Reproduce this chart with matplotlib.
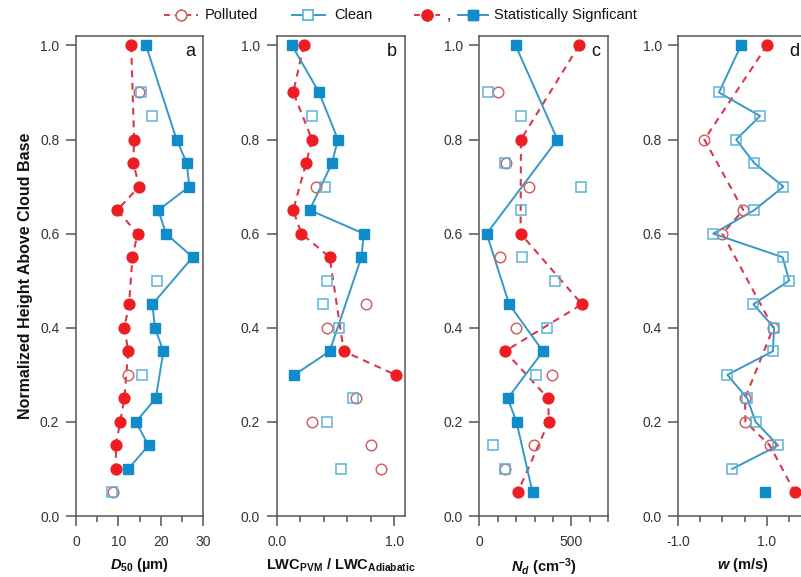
import numpy as np
import matplotlib
matplotlib.use("Agg")
import matplotlib.pyplot as plt
from matplotlib.lines import Line2D
from matplotlib.ticker import MultipleLocator, FixedLocator

plt.rcParams['font.family'] = ['Liberation Sans', 'DejaVu Sans']
plt.rcParams['mathtext.fontset'] = 'custom'
plt.rcParams['mathtext.it'] = 'Liberation Sans:italic:bold'
plt.rcParams['mathtext.rm'] = 'Liberation Sans:bold'
plt.rcParams['mathtext.bf'] = 'Liberation Sans:bold'

N = np.nan
# normalized height levels (top to bottom)
heights = [1.0, 0.9, 0.85, 0.8, 0.75, 0.7, 0.65, 0.6, 0.55, 0.5,
           0.45, 0.4, 0.35, 0.3, 0.25, 0.2, 0.15, 0.1, 0.05]

# a: D50 (um)
a_pol = [13.0, 14.9, N, 13.7, 13.5, 14.9, 9.7, 14.5, 13.3, N, 12.5, 11.4, 12.3, 12.2, 11.4, 10.4, 9.4, 9.4, 8.8]
a_pol_sig = [1, 0, 0, 1, 1, 1, 1, 1, 1, 0, 1, 1, 1, 0, 1, 1, 1, 1, 0]
a_cln = [16.5, 15.3, 17.8, 23.7, 26.1, 26.7, 19.4, 21.2, 27.5, 19.0, 18.0, 18.6, 20.6, 15.5, 18.8, 14.1, 17.1, 12.3, 8.4]
a_cln_sig = [1, 0, 0, 1, 1, 1, 1, 1, 1, 0, 1, 1, 1, 0, 1, 1, 1, 1, 0]

# b: LWC_PVM / LWC_adiabatic
b_pol = [0.23, 0.14, N, 0.30, 0.25, 0.33, 0.14, 0.21, 0.45, N, 0.76, 0.43, 0.57, 1.01, 0.67, 0.30, 0.80, 0.89, N]
b_pol_sig = [1, 1, 0, 1, 1, 0, 1, 1, 1, 0, 0, 0, 1, 1, 0, 0, 0, 0, 0]
b_cln = [0.13, 0.36, 0.30, 0.52, 0.47, 0.41, 0.28, 0.74, 0.72, 0.43, 0.39, 0.53, 0.45, 0.15, 0.65, 0.43, N, 0.55, N]
b_cln_sig = [1, 1, 0, 1, 1, 0, 1, 1, 1, 0, 0, 0, 1, 1, 0, 0, 0, 0, 0]

# c: Nd (cm-3)
c_pol = [541, 103, N, 226, 144, 271, N, 224, 112, N, 557, 199, 139, 392, 374, 377, 298, 139, 208]
c_pol_sig = [1, 0, 0, 1, 0, 0, 0, 1, 0, 0, 1, 0, 1, 0, 1, 1, 0, 0, 1]
c_cln = [197, 45, 226, 424, 139, 550, 226, 40, 229, 410, 162, 370, 346, 307, 154, 202, 72, 139, 289]
c_cln_sig = [1, 0, 0, 1, 0, 0, 0, 1, 0, 0, 1, 0, 1, 0, 1, 1, 0, 0, 1]

# d: w (m/s)
d_pol = [1.01, N, N, -0.41, N, N, 0.47, 0.0, N, N, N, 1.15, N, N, 0.51, 0.52, 1.07, N, 1.64]
d_pol_sig = [1, 0, 0, 0, 0, 0, 0, 0, 0, 0, 0, 0, 0, 0, 0, 0, 0, 0, 1]
d_cln = [0.42, -0.08, 0.85, 0.31, 0.72, 1.38, 0.72, -0.21, 1.36, 1.51, 0.70, 1.17, 1.14, 0.11, 0.56, 0.75, 1.26, 0.22, 0.96]
d_cln_sig = [1, 0, 0, 0, 0, 0, 0, 0, 0, 0, 0, 0, 0, 0, 0, 0, 0, 0, 1]
# which points the lines run through in panel d
d_pol_join = [1] * 19
d_cln_join = [1] * 18 + [0]

red_fill = '#ee1d23'
red_line = '#d8384a'
red_open = '#cf6464'
blue_fill = '#108ccb'
blue_line = '#3798c6'
blue_open = '#5cb0da'
axc = '#555555'

W, H = 801, 577
fig = plt.figure(figsize=(W / 100, H / 100), dpi=100)


def px(x, y):
    return x / W, 1 - y / H


def series(ax, vals, sig, join, pol):
    h = np.array(heights)
    v = np.array(vals, dtype=float)
    s = np.array(sig, dtype=bool)
    j = np.array(join, dtype=bool) & ~np.isnan(v)
    m = ~s & ~np.isnan(v)
    if pol:
        ax.plot(v[j], h[j], ls=(0, (3.3, 2.7)), lw=1.5, color=red_line, zorder=2)
        ax.plot(v[m], h[m], 'o', ms=7.6, mfc='none', mec=red_open, mew=1.1, ls='none', zorder=3)
        ax.plot(v[s], h[s], 'o', ms=7.8, color=red_fill, ls='none', zorder=4)
    else:
        ax.plot(v[j], h[j], '-', lw=1.4, color=blue_line, zorder=2)
        ax.plot(v[m], h[m], 's', ms=7.4, mfc='none', mec=blue_open, mew=1.1, ls='none', zorder=3)
        ax.plot(v[s], h[s], 's', ms=7.2, color=blue_fill, ls='none', zorder=4)


panels = [
    ('a', 76, 127.3, (0, 30), [0, 10, 20, 30], ['0', '10', '20', '30'], 5,
     '$D_{50}$ (µm)', a_pol, a_pol_sig, a_pol_sig, a_cln, a_cln_sig, a_cln_sig),
    ('b', 276.7, 128.3, (0, 1.09), [0, 1.0], ['0.0', '1.0'], 0.2,
     'LWC$_{\\mathrm{PVM}}$ / LWC$_{\\mathrm{Adiabatic}}$', b_pol, b_pol_sig, b_pol_sig, b_cln, b_cln_sig, b_cln_sig),
    ('c', 479.3, 129, (0, 700), [0, 500], ['0', '500'], 100,
     '$N_d$ (cm$^{\\mathrm{-3}}$)', c_pol, c_pol_sig, c_pol_sig, c_cln, c_cln_sig, c_cln_sig),
    ('d', 678.3, 129, (-1, 1.92), [-1.0, 1.0], ['-1.0', '1.0'], 0.5,
     '$w$ (m/s)', d_pol, d_pol_sig, d_pol_join, d_cln, d_cln_sig, d_cln_join),
]

top, bot = 36, 516
for (letter, x0, w, xlim, majors, mlabels, minor, xlabel,
     pv, ps, pj, cv, cs, cj) in panels:
    ax = fig.add_axes([x0 / W, 1 - bot / H, w / W, (bot - top) / H])
    series(ax, pv, ps, pj, True)
    series(ax, cv, cs, cj, False)
    ax.set_xlim(*xlim)
    ax.set_ylim(0, 1.02)
    ax.xaxis.set_major_locator(FixedLocator(majors))
    ax.set_xticklabels(mlabels)
    ax.xaxis.set_minor_locator(MultipleLocator(minor))
    ax.yaxis.set_major_locator(FixedLocator([0, 0.2, 0.4, 0.6, 0.8, 1.0]))
    ax.set_yticklabels(['0.0', '0.2', '0.4', '0.6', '0.8', '1.0'])
    for sp in ax.spines.values():
        sp.set_color(axc)
        sp.set_linewidth(1.1)
    ax.tick_params(which='major', direction='out', length=7, width=1.1, color=axc,
                   labelsize=10, labelcolor='#333333')
    ax.tick_params(axis='x', which='major', pad=7)
    ax.tick_params(axis='y', which='major', pad=5)
    ax.tick_params(which='minor', direction='out', length=4, width=1.1, color=axc)
    ax.set_xlabel(xlabel, fontsize=10.5, fontweight='bold', color='#111111', labelpad=5)
    ax.text(0.90, 0.967, letter, transform=ax.transAxes, fontsize=13,
            ha='center', va='center', color='#111111')
    if letter == 'a':
        ax.set_ylabel('Normalized Height Above Cloud Base', fontsize=11.5,
                      fontweight='bold', color='#111111', labelpad=5)

# legend along the top
ly = 15
fig.add_artist(Line2D(*zip(px(164, ly), px(198, ly)), ls=(0, (3, 2.5)), lw=1.4, color=red_line))
fig.add_artist(Line2D(*zip(px(181, ly), px(181, ly)), marker='o', ms=7.6, mfc='white', mec=red_open, mew=1.1))
fig.text(*px(205, ly), 'Polluted', fontsize=10.5, va='center', color='#111111')
fig.add_artist(Line2D(*zip(px(292, ly), px(325, ly)), lw=1.4, color=blue_line))
fig.add_artist(Line2D(*zip(px(308, ly), px(308, ly)), marker='s', ms=7.4, mfc='white', mec=blue_open, mew=1.1))
fig.text(*px(334, ly), 'Clean', fontsize=10.5, va='center', color='#111111')
fig.add_artist(Line2D(*zip(px(414, ly), px(440, ly)), ls=(0, (3, 2.5)), lw=1.4, color=red_line))
fig.add_artist(Line2D(*zip(px(427, ly), px(427, ly)), marker='o', ms=7.8, color=red_fill))
fig.text(*px(447, ly + 1), ',', fontsize=10.5, va='center', color='#111111')
fig.add_artist(Line2D(*zip(px(458, ly), px(488, ly)), lw=1.4, color=blue_line))
fig.add_artist(Line2D(*zip(px(473, ly), px(473, ly)), marker='s', ms=7.2, color=blue_fill))
fig.text(*px(494, ly), 'Statistically Signficant', fontsize=10.5, va='center', color='#111111')

fig.savefig('out.png', dpi=100)
